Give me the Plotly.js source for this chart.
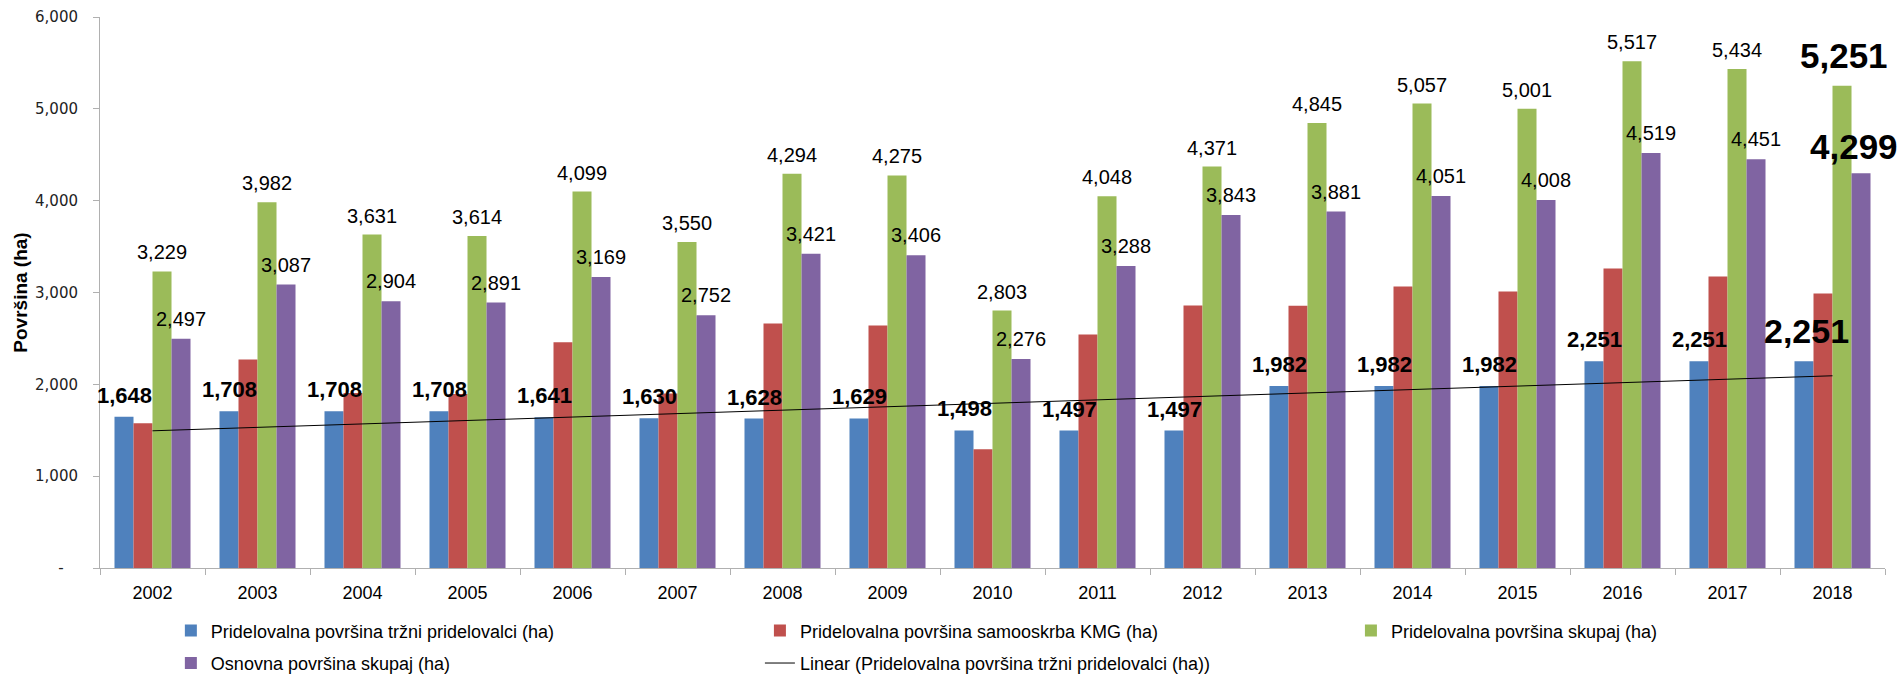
<!DOCTYPE html>
<html>
<head>
<meta charset="utf-8">
<script src="https://cdn.plot.ly/plotly-3.0.1.min.js"></script>
<style>html,body{margin:0;padding:0;background:#fff;}#chart{width:1899px;height:675px;}</style>
</head>
<body>
<div id="chart"></div>
<script>
// ---------- data ----------
const years = ['2002','2003','2004','2005','2006','2007','2008','2009','2010','2011','2012','2013','2014','2015','2016','2017','2018'];
const trzni = [1648,1708,1708,1708,1641,1630,1628,1629,1498,1497,1497,1982,1982,1982,2251,2251,2251];
const samooskrba = [1576,2270,1905,1895,2457,1900,2663,2641,1293,2543,2859,2855,3065,3011,3261,3174,2989];
const skupaj = [3229,3982,3631,3614,4099,3550,4294,4275,2803,4048,4371,4845,5057,5001,5517,5434,5251];
const osnovna = [2497,3087,2904,2891,3169,2752,3421,3406,2276,3288,3843,3881,4051,4008,4519,4451,4299];
const seriesNames = [
  'Pridelovalna površina tržni pridelovalci (ha)',
  'Pridelovalna površina samooskrba KMG (ha)',
  'Pridelovalna površina skupaj (ha)',
  'Osnovna površina skupaj (ha)'
];
const trendName = 'Linear (Pridelovalna površina tržni pridelovalci (ha))';
const yTickVals = [0,1000,2000,3000,4000,5000,6000];
const yTickText = ['-\u00a0\u00a0\u00a0','1,000','2,000','3,000','4,000','5,000','6,000'];
const yTitle = 'Površina (ha)';

// ---------- styles ----------
const colors = ['#4F81BD','#C0504D','#9BBB59','#8064A2'];
const labelFont = 'Liberation Sans, Arial, sans-serif';
const narrowFont = 'Liberation Sans Narrow, Arial Narrow, Liberation Sans, sans-serif';

// linear trendline (least squares over category index, as Excel does)
const n = trzni.length;
const xs = trzni.map((_, i) => i + 1);
const mx = xs.reduce((a,b)=>a+b,0)/n;
const my = trzni.reduce((a,b)=>a+b,0)/n;
let sxy = 0, sxx = 0;
for (let i = 0; i < n; i++) { sxy += (xs[i]-mx)*(trzni[i]-my); sxx += (xs[i]-mx)*(xs[i]-mx); }
const slope = sxy/sxx, icpt = my - slope*mx;
const trend = xs.map(x => icpt + slope*x);

const allSeries = [trzni, samooskrba, skupaj, osnovna];
const legendIds = ['legend','legend2','legend3','legend4'];
const traces = allSeries.map((vals, k) => ({
  type: 'bar', x: years, y: vals, name: seriesNames[k],
  marker: {color: colors[k], line: {width: 0}},
  legend: legendIds[k], hoverinfo: 'skip'
}));
traces.push({
  type: 'scatter', mode: 'lines', x: years, y: trend, name: trendName,
  line: {color: '#000000', width: 1}, legend: 'legend5', hoverinfo: 'skip'
});

// ---------- labels ----------
const fmt = v => v.toLocaleString('en-US');
const annotations = [];
const labelled = [
  {vals: trzni, shift: -28.5, shiftLast: -26, font: {size: 22, weight: 'bold'}, last: {size: 34, weight: 'bold'}, ys: 7, ysLast: 9},
  {vals: skupaj, shift: 9.5, shiftLast: 11, font: {size: 20, weight: 'normal'}, last: {size: 35, weight: 'bold'}, ys: 6, ysLast: 9},
  {vals: osnovna, shift: 28.5, shiftLast: 21, font: {size: 20, weight: 'normal'}, last: {size: 35, weight: 'bold'}, ys: 7, ysLast: 5}
];
labelled.forEach(s => {
  s.vals.forEach((v, i) => {
    const isLast = i === s.vals.length - 1;
    const f = isLast ? s.last : s.font;
    annotations.push({
      x: i, y: v, xref: 'x', yref: 'y', text: fmt(v), showarrow: false,
      xanchor: 'center', yanchor: 'bottom', xshift: isLast ? s.shiftLast : s.shift, yshift: isLast ? s.ysLast : s.ys,
      font: {family: labelFont, size: f.size, weight: f.weight, color: '#000'}
    });
  });
});

const legBase = {orientation: 'v', xanchor: 'left', yanchor: 'middle', bgcolor: 'rgba(0,0,0,0)',
  font: {family: narrowFont, size: 18, color: '#000'}};
const layout = {
  width: 1899, height: 675,
  margin: {l: 100, r: 14, t: 17, b: 107, autoexpand: false},
  paper_bgcolor: '#fff', plot_bgcolor: '#fff',
  barmode: 'group', bargap: 0.276, bargroupgap: 0,
  showlegend: true,
  xaxis: {
    type: 'category', range: [-0.5, years.length - 0.5], tickson: 'boundaries', ticks: 'outside', ticklen: 6, tickcolor: '#b0b0b0',
    showline: true, linecolor: '#b0b0b0', linewidth: 1, showgrid: false, zeroline: false,
    tickfont: {family: narrowFont, size: 18, color: '#000'}, ticklabelstandoff: 8, automargin: false, tickangle: 0
  },
  yaxis: {
    range: [0, 6000], tickvals: yTickVals, ticktext: yTickText, ticks: 'outside', ticklen: 6,
    tickcolor: '#b0b0b0', showline: true, linecolor: '#b0b0b0', linewidth: 1, showgrid: false,
    zeroline: false, tickfont: {family: 'DejaVu Sans, sans-serif', size: 15, color: '#222'},
    ticklabelstandoff: 12, automargin: false,
    title: {text: yTitle, font: {family: labelFont, size: 19, weight: 'bold', color: '#000'}, standoff: 2}
  },
  annotations: annotations,
  legend:  Object.assign({}, legBase, {x: 0.0397, y: -0.114}),
  legend2: Object.assign({}, legBase, {x: 0.3697, y: -0.114}),
  legend3: Object.assign({}, legBase, {x: 0.7008, y: -0.114}),
  legend4: Object.assign({}, legBase, {x: 0.0397, y: -0.173}),
  legend5: Object.assign({}, legBase, {x: 0.3697, y: -0.173})
};
Plotly.newPlot('chart', traces, layout, {displayModeBar: false, staticPlot: true});
</script>
</body>
</html>
